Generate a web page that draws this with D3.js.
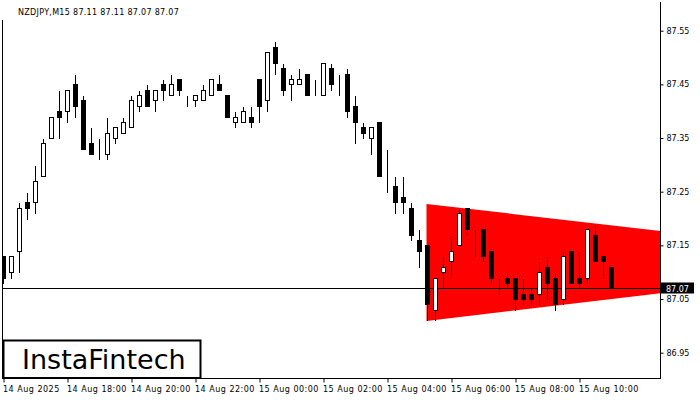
<!DOCTYPE html>
<html>
<head>
<meta charset="utf-8">
<script src="https://cdn.jsdelivr.net/npm/d3@7"></script>
<style>
  html, body { margin: 0; padding: 0; background: #fff; }
  svg { display: block; }
  text { font-family: "DejaVu Sans", sans-serif; }
</style>
</head>
<body>
<svg id="chart" width="700" height="400"></svg>
<script>
// ---- data ----
const title = "NZDJPY,M15  87.11 87.11 87.07 87.07";
const opens  = [87.13,87.10,87.14,87.23,87.23,87.28,87.35,87.40,87.40,87.45,87.42,87.34,87.33,87.32,87.35,87.36,87.37,87.41,87.44,87.42,87.45,87.43,87.46,87.43,87.42,87.42,87.43,87.45,87.43,87.38,87.38,87.39,87.46,87.42,87.52,87.48,87.45,87.45,87.47,87.44,87.43,87.48,87.46,87.47,87.41,87.37,87.35,87.38,87.27,87.26,87.24,87.22,87.16,87.15,87.03,87.10,87.12,87.15,87.22,87.17,87.18,87.14,87.08,87.09,87.09,87.06,87.06,87.06,87.11,87.09,87.05,87.14,87.09,87.09,87.17,87.13,87.11];
const highs  = [87.13,87.13,87.23,87.25,87.30,87.35,87.39,87.44,87.44,87.47,87.43,87.37,87.35,87.39,87.37,87.39,87.43,87.44,87.45,87.44,87.46,87.47,87.46,87.43,87.43,87.45,87.46,87.47,87.43,87.40,87.41,87.41,87.46,87.51,87.53,87.49,87.47,87.48,87.47,87.46,87.49,87.49,87.47,87.48,87.43,87.38,87.37,87.38,87.33,87.28,87.28,87.23,87.18,87.15,87.09,87.13,87.17,87.22,87.22,87.18,87.18,87.14,87.09,87.10,87.09,87.09,87.07,87.12,87.13,87.10,87.14,87.14,87.14,87.18,87.19,87.13,87.11];
const lows   = [87.08,87.09,87.10,87.20,87.21,87.28,87.35,87.35,87.38,87.39,87.33,87.32,87.31,87.31,87.34,87.36,87.37,87.40,87.41,87.40,87.42,87.43,87.43,87.41,87.41,87.42,87.43,87.44,87.39,87.37,87.38,87.37,87.38,87.40,87.47,87.43,87.42,87.45,87.43,87.43,87.43,87.44,87.43,87.39,87.34,87.35,87.32,87.28,87.25,87.21,87.21,87.16,87.11,87.01,87.01,87.07,87.09,87.15,87.17,87.13,87.12,87.08,87.06,87.07,87.03,87.04,87.04,87.04,87.05,87.03,87.04,87.08,87.07,87.08,87.12,87.09,87.07];
const closes = [87.09,87.13,87.22,87.22,87.27,87.34,87.39,87.39,87.44,87.41,87.33,87.32,87.33,87.36,87.37,87.38,87.42,87.43,87.41,87.44,87.44,87.45,87.44,87.43,87.43,87.44,87.46,87.44,87.39,87.39,87.40,87.38,87.41,87.51,87.49,87.44,87.46,87.46,87.43,87.44,87.49,87.45,87.46,87.40,87.38,87.36,87.37,87.28,87.27,87.23,87.23,87.17,87.14,87.04,87.09,87.11,87.14,87.21,87.18,87.17,87.13,87.09,87.08,87.08,87.05,87.05,87.05,87.10,87.08,87.04,87.13,87.08,87.08,87.18,87.12,87.12,87.07];
const lastPrice = 87.07;
const yTicks = [86.95, 87.05, 87.15, 87.25, 87.35, 87.45, 87.55];
const xTickIdx = [0, 8, 16, 24, 32, 40, 48, 56, 64, 72];
const xTickLabels = ["14 Aug 2025","14 Aug 18:00","14 Aug 20:00","14 Aug 22:00","15 Aug 00:00","15 Aug 02:00","15 Aug 04:00","15 Aug 06:00","15 Aug 08:00","15 Aug 10:00"];
// triangle pattern (bar index, upper and lower price)
const triIdx   = [53, 82];
const triUpper = [87.227, 87.177];
const triLower = [87.009, 87.061];

// ---- chart ----
const svg = d3.select("#chart");
const L = 2.5, R = 660.5, B = 378.5;
const x = d3.scaleLinear().domain([0, 82]).range([3.5, 659.5]);
const y = d3.scaleLinear().domain([86.95, 87.55]).range([352.7, 30.7]);
const py = v => Math.round(y(v)) + 0.5;

svg.append("defs").append("clipPath").attr("id", "plot")
  .append("rect").attr("x", L).attr("y", 0).attr("width", R - L).attr("height", B);

const plot = svg.append("g").attr("clip-path", "url(#plot)");

// triangle
const triPts = [
  [x(triIdx[0]) - 1, y(triUpper[0])],
  [x(triIdx[1]) + 1, y(triUpper[1])],
  [x(triIdx[1]) + 1, y(triLower[1])],
  [x(triIdx[0]) - 1, y(triLower[0])]
];
plot.append("polygon")
  .attr("points", triPts.map(p => p.join(",")).join(" "))
  .attr("fill", "#ff0000");

// current price line
plot.append("line")
  .attr("x1", L).attr("x2", R)
  .attr("y1", py(lastPrice)).attr("y2", py(lastPrice))
  .attr("stroke", "#000").attr("stroke-width", 1);

// candles
const bars = opens.map((o, i) => ({ i, o, h: highs[i], l: lows[i], c: closes[i] }));
const g = plot.append("g").attr("shape-rendering", "crispEdges");
g.selectAll("line.wick").data(bars).join("line")
  .attr("class", "wick")
  .attr("x1", d => x(d.i)).attr("x2", d => x(d.i))
  .attr("y1", d => py(d.h)).attr("y2", d => py(d.l) + 0.5)
  .attr("stroke", "#000").attr("stroke-width", 1);
g.selectAll("rect.body").data(bars).join("rect")
  .attr("class", "body")
  .attr("x", d => x(d.i) - 2)
  .attr("width", 4)
  .attr("y", d => py(Math.max(d.o, d.c)))
  .attr("height", d => Math.abs(py(d.o) - py(d.c)))
  .attr("fill", d => d.c >= d.o ? "#fff" : "#000")
  .attr("stroke", "#000").attr("stroke-width", 1);

// frame
const frame = svg.append("g").attr("stroke", "#000").attr("stroke-width", 1).attr("shape-rendering", "crispEdges");
frame.append("line").attr("x1", L).attr("x2", L).attr("y1", 20).attr("y2", B);
frame.append("line").attr("x1", R).attr("x2", R).attr("y1", 2).attr("y2", B);
frame.append("line").attr("x1", L).attr("x2", R).attr("y1", B).attr("y2", B);

// right axis
const yAxis = svg.append("g")
  .attr("transform", `translate(${R},0)`)
  .call(d3.axisRight(y).tickValues(yTicks).tickSize(3).tickPadding(3).tickFormat(d3.format(".2f")));
yAxis.select(".domain").remove();
yAxis.selectAll("text").attr("font-family", "DejaVu Sans").attr("font-size", 8).attr("fill", "#000");
yAxis.selectAll("line").attr("stroke", "#000");

// bottom axis
const xAxis = svg.append("g")
  .attr("transform", `translate(0,${B})`)
  .call(d3.axisBottom(x).tickValues(xTickIdx).tickSize(4).tickPadding(4).tickFormat((d, i) => xTickLabels[i]));
xAxis.select(".domain").remove();
xAxis.selectAll("text").attr("font-family", "DejaVu Sans").attr("font-size", 8)
  .attr("text-anchor", "start").attr("dx", -1).attr("letter-spacing", 0.5).attr("fill", "#000");
xAxis.selectAll("line").attr("stroke", "#000");

// last price label
const lp = py(lastPrice);
svg.append("rect").attr("x", 661).attr("y", lp - 6).attr("width", 33).attr("height", 11).attr("fill", "#000");
svg.append("text").attr("x", 666).attr("y", lp + 3).attr("font-size", 8).attr("fill", "#fff").text(d3.format(".2f")(lastPrice));

// title
svg.append("text").attr("x", 18).attr("y", 14.5).attr("font-size", 8).attr("letter-spacing", 0.3).attr("fill", "#000").text(title);

// logo
svg.append("rect").attr("x", 3.5).attr("y", 340.5).attr("width", 197).attr("height", 37.5)
  .attr("fill", "#fff").attr("stroke", "#000").attr("stroke-width", 2);
svg.append("text").attr("x", 22).attr("y", 369).attr("font-family", "Roboto, 'Liberation Sans', sans-serif")
  .attr("font-size", 27).attr("fill", "#000").text("InstaFintech");
</script>
</body>
</html>
